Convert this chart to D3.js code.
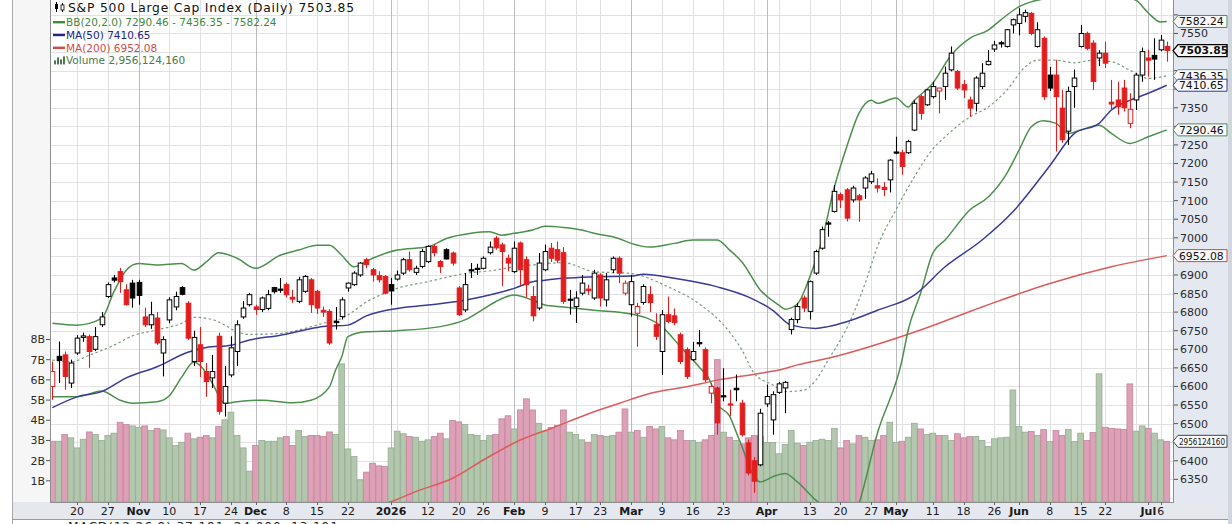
<!DOCTYPE html>
<html><head><meta charset="utf-8">
<script src="https://cdn.jsdelivr.net/npm/d3@7"></script>
<style>body{margin:0;background:#fff;} svg{display:block;font-family:"DejaVu Sans",Verdana,sans-serif;}</style>
</head><body>
<script>
// ---------------- DATA ----------------
const startDate = "2025-10-14";
const endDate = "2026-07-07";
const holidays = ["2025-11-27","2025-12-25","2026-01-01","2026-01-19","2026-02-16","2026-04-03","2026-05-25","2026-06-19","2026-07-03"];
const prevClose = 6660;

const opens = [6600,6681,6685,6609,
6690,6732,6734,6700,6766, 6842,6892,6909,6860,6878, 6880,6787,6766,6784,6690, 6779,6814,6866,6824,6667,
6712,6640,6623,6735,6555, 6631,6694,6787,6820, 6814,6807,6810,6866,6862, 6874,6840,6829,6856,6887,
6856,6805,6802,6775,6788, 6865,6874,6900,6941, 6914,6898,6896,6874, 6889,6905,6941,6907,6923,
6936,6977,6936,6968,6959, 6865,6806,6914,6918, 6918,6960,6999,6981,6945, 6909,6986,6941,6842,6811,
6914,6972,6968,6960,6835, 6815,6851,6862,6838, 6900,6833,6914,6945,6851, 6820,6797,6826,6847,6766,
6694,6793,6790,6739,6699, 6672,6718,6699,6582,6596, 6575,6553,6595,6555,6448, 6400,6389,6553,6510,
6584,6596,6753,6780,6838, 6802,6905,6972,7040,7071, 7116,7129,7102,7113,7134, 7151,7140,7136,7156,7231,
7229,7229,7290,7380,7358, 7380,7395,7407,7452,7448, 7412,7371,7362,7407,7466, 7508,7525,7515,7573,
7577,7596,7604,7515,7537, 7438,7438,7349,7287,7407, 7515,7550,7524,7484, 7497,7365,7371,7403,7308,
7371,7438,7484,7491, 7506,7515];
const highs = [6667,6721,6694,6672,
6738,6745,6740,6760,6800, 6880,6900,6919,6875,6887, 6887,6812,6828,6800,6735, 6840,6855,6870,6830,6750,
6760,6663,6685,6745,6655, 6735,6778,6830,6852, 6820,6842,6860,6868,6892, 6880,6860,6895,6900,6892,
6860,6815,6808,6814,6840, 6880,6910,6935,6946, 6919,6910,6900,6892, 6912,6946,6963,6925,6970,
6980,6982,6940,6972,6963, 6870,6905,6932,6930, 6950,6990,7005,6987,6955, 6990,6990,6950,6870,6959,
6982,6986,6990,6975,6860, 6856,6900,6874,6914, 6905,6905,6950,6950,6885, 6900,6825,6875,6870,6797,
6806,6842,6810,6745,6705, 6720,6752,6705,6609,6600, 6649,6591,6632,6564,6457, 6410,6540,6605,6587,
6612,6615,6785,6825,6845, 6885,6968,7030,7045,7142, 7122,7134,7140,7118,7166, 7180,7160,7150,7212,7272,
7237,7264,7370,7385,7400, 7420,7404,7461,7515,7452, 7425,7380,7435,7470,7505, 7530,7530,7562,7590,
7618,7614,7608,7580,7542, 7460,7479,7398,7407,7453, 7573,7555,7532,7505, 7528,7425,7420,7425,7389,
7444,7512,7506,7537, 7546,7528];
const lows = [6564,6609,6591,6596,
6685,6720,6650,6695,6760, 6838,6880,6852,6818,6812, 6820,6760,6755,6712,6627, 6770,6805,6845,6725,6655,
6625,6572,6596,6524,6519, 6625,6655,6782,6815, 6793,6800,6805,6850,6852, 6840,6825,6824,6852,6798,
6795,6787,6712,6753,6780, 6855,6870,6895,6918, 6882,6880,6848,6820, 6885,6900,6909,6900,6918,
6932,6950,6905,6942,6925, 6790,6800,6892,6900, 6915,6955,6968,6870,6910, 6905,6870,6840,6775,6805,
6910,6935,6932,6822,6793, 6771,6845,6847,6833, 6815,6815,6905,6878,6845, 6788,6707,6820,6800,6725,
6631,6770,6765,6660,6620, 6668,6707,6612,6555,6470, 6560,6520,6560,6465,6360, 6314,6385,6545,6470,
6580,6528,6740,6770,6800, 6780,6900,6968,7003,7068, 7080,7044,7095,7043,7105, 7145,7122,7112,7122,7225,
7170,7226,7287,7318,7355, 7375,7335,7371,7448,7398, 7376,7326,7340,7400,7464, 7500,7512,7512,7550,
7545,7580,7545,7512,7371, 7395,7232,7256,7250,7350, 7512,7505,7398,7462, 7457,7344,7331,7340,7295,
7344,7420,7434,7425, 7502,7474];
const closes = [6640,6670,6627,6663,
6730,6736,6694,6734,6787, 6874,6886,6882,6820,6838, 6845,6766,6793,6717,6726, 6833,6842,6848,6730,6732,
6667,6613,6640,6533,6600, 6704,6766,6811,6847, 6807,6838,6847,6855,6860, 6847,6835,6887,6896,6820,
6811,6800,6717,6772,6833, 6878,6905,6932,6928, 6900,6887,6851,6857, 6900,6941,6914,6918,6963,
6977,6960,6923,6943,6932, 6793,6874,6912,6915, 6945,6975,6973,6963,6932, 6972,6914,6874,6790,6932,
6963,6945,6940,6829,6833, 6838,6878,6858,6905, 6838,6887,6945,6905,6878, 6882,6815,6869,6826,6735,
6793,6775,6772,6667,6627, 6694,6715,6618,6600,6502, 6572,6550,6591,6470,6367, 6345,6528,6573,6578,
6607,6611,6780,6815,6811, 6882,6963,7022,7037,7125, 7102,7053,7134,7102,7161, 7172,7134,7130,7209,7228,
7192,7259,7362,7335,7398, 7407,7403,7443,7497,7403, 7398,7349,7430,7443,7475, 7519,7522,7560,7587,
7600,7606,7550,7560,7380, 7403,7380,7264,7394,7430, 7550,7510,7421,7497, 7470,7360,7353,7350,7346,
7438,7501,7478,7481, 7532,7503.85];
// volume, billions of shares
const volumes = [2.96,2.96,3.29,3.13,
2.63,3.06,3.42,3.29,3.00, 3.24,3.36,3.90,3.79,3.72, 3.65,3.72,3.49,3.60,3.52, 3.13,2.75,2.91,3.36,3.08,
3.16,3.24,3.13,3.69,4.02, 4.40,3.24,2.63,1.48, 2.76,3.00,2.96,2.96,3.13, 3.19,2.75,3.49,3.19,3.24,
3.24,3.19,3.42,3.29,6.79, 2.58,2.20,1.05,1.43, 1.87,1.74,1.72,2.63, 3.46,3.33,3.19,3.16,2.96,
3.03,3.19,3.36,3.08,3.99, 3.92,3.79,3.29,3.24, 3.00,3.24,3.29,4.07,4.22, 3.57,4.51,5.06,4.51,3.85,
3.46,3.65,3.74,4.51,3.41, 3.29,3.03,2.91,3.29, 3.24,3.19,3.24,3.41,4.56, 3.41,3.49,3.16,3.69,3.57,
3.69,3.13,3.03,3.49,3.00, 3.00,2.91,3.03,3.24,7.00, 3.41,3.16,3.00,2.83,3.13, 3.24,3.20,2.90,2.90,
2.34,2.80,3.49,2.86,2.75, 2.91,3.00,3.06,3.00,3.60, 2.63,3.00,2.83,3.24,3.16, 3.00,3.03,3.24,3.90,2.91,
2.96,3.16,3.85,3.57,3.29, 3.36,3.24,3.24,3.00,3.33, 3.13,3.19,3.19,3.00,2.70, 3.08,3.13,3.16,5.50,
3.69,3.41,3.44,3.24,3.54, 2.95,3.49,3.24,3.54,2.95, 3.36,3.00,3.39,6.30, 3.65,3.60,3.57,3.54,5.80,
3.46,3.72,3.60,3.36, 3.03,2.95612416];

// indicator lines: [trading days after lineDay0, value]
const lineDay0 = "2025-10-20";
const bbUpper = [[-4,6770],[0,6765],[4,6783],[6,6855],[8,6913],[10,6931],[13,6927],[17,6931],[19,6913],[21,6935],[23,6960],[26,6945],[29,6918],[33,6953],[36,6967],[39,6980],[41,6980],[43,6953],[45,6922],[48,6945],[52,6967],[57,6976],[60,6998],[64,7012],[67,7016],[69,7007],[71,7012],[74,7021],[76,7031],[79,7028],[82,7021],[84,7012],[88,6998],[90,6985],[93,6975],[97,6985],[100,6994],[104,6994],[106,6967],[108,6935],[111,6859],[114,6819],[115,6808],[117,6822],[119,6894],[121,6994],[123,7136],[125,7244],[127,7335],[129,7370],[130,7362],[133,7376],[135,7352],[136,7370],[139,7416],[142,7492],[145,7537],[148,7559],[150,7586],[153,7622],[155,7635],[159,7648],[163,7655],[168,7655],[172,7639],[174,7605],[176,7581],[177,7582.24]];
const bbMiddle = [[-4,6671],[-1,6666],[2,6684],[6,6711],[9,6736],[13,6752],[17,6770],[19,6786],[22,6780],[24,6765],[26,6747],[28,6740],[33,6743],[36,6752],[40,6770],[43,6783],[47,6827],[52,6864],[57,6882],[63,6904],[68,6913],[71,6922],[74,6927],[79,6933],[84,6909],[90,6904],[96,6868],[101,6823],[106,6746],[108,6698],[110,6635],[113,6604],[115,6586],[118,6590],[120,6617],[122,6671],[125,6756],[128,6877],[130,6976],[133,7075],[136,7164],[139,7239],[141,7272],[145,7325],[148,7352],[151,7397],[154,7460],[156,7478],[159,7478],[162,7471],[165,7478],[168,7474],[171,7451],[174,7429],[177,7436.35]];
const bbLower = [[-4,6572],[0,6572],[4,6588],[7,6563],[9,6555],[13,6559],[15,6575],[17,6625],[19,6666],[21,6636],[22,6608],[24,6554],[26,6559],[30,6563],[35,6556],[38,6563],[41,6599],[42,6644],[43,6680],[44,6734],[47,6747],[52,6750],[59,6761],[63,6779],[66,6808],[68,6828],[71,6846],[74,6832],[76,6819],[79,6814],[84,6805],[90,6795],[95,6761],[98,6707],[101,6653],[103,6608],[104,6554],[106,6520],[107,6480],[108,6438],[110,6357],[111,6343],[113,6357],[115,6366],[117,6343],[120,6294],[121,6280],[123,6235],[125,6215],[126,6240],[127,6285],[130,6474],[134,6671],[135,6752],[137,6850],[139,6959],[141,6994],[145,7075],[148,7110],[151,7173],[153,7236],[155,7299],[157,7315],[159,7308],[161,7281],[163,7290],[166,7303],[168,7281],[171,7254],[174,7272],[177,7290.46]];
const ma50 = [[-4,6543],[0,6572],[4,6586],[8,6623],[13,6653],[18,6692],[21,6705],[25,6711],[28,6725],[33,6738],[37,6752],[40,6761],[44,6765],[47,6790],[52,6810],[57,6819],[63,6832],[68,6850],[71,6864],[74,6882],[76,6886],[79,6891],[84,6895],[90,6897],[92,6902],[97,6891],[104,6868],[109,6841],[113,6805],[116,6765],[120,6756],[122,6761],[125,6774],[130,6805],[136,6846],[141,6922],[147,6994],[152,7070],[158,7194],[162,7281],[166,7308],[168,7344],[171,7370],[174,7389],[177,7410.65]];
const ma200 = [[44,6270],[51,6290],[55,6317],[61,6353],[66,6402],[72,6456],[77,6487],[83,6526],[88,6554],[93,6581],[99,6599],[104,6617],[110,6633],[114,6644],[117,6658],[122,6676],[137,6752],[147,6814],[158,6877],[168,6922],[177,6952.08]];

const xLabels = [["2025-10-20","20"],["2025-10-27","27"],["2025-11-03","Nov"],["2025-11-10","10"],["2025-11-17","17"],["2025-11-24","24"],["2025-12-01","Dec"],["2025-12-08","8"],["2025-12-15","15"],["2025-12-22","22"],["2026-01-02","2026"],["2026-01-12","12"],["2026-01-20","20"],["2026-01-26","26"],["2026-02-02","Feb"],["2026-02-09","9"],["2026-02-17","17"],["2026-02-23","23"],["2026-03-02","Mar"],["2026-03-09","9"],["2026-03-16","16"],["2026-03-23","23"],["2026-04-01","Apr"],["2026-04-13","13"],["2026-04-20","20"],["2026-04-27","27"],["2026-05-01","May"],["2026-05-11","11"],["2026-05-18","18"],["2026-05-26","26"],["2026-06-01","Jun"],["2026-06-08","8"],["2026-06-15","15"],["2026-06-22","22"],["2026-07-01","Jul"],["2026-07-06","6"]];
const monthLabels = ["Nov","Dec","2026","Feb","Mar","Apr","May","Jun","Jul"];
const priceTicks = d3.range(6350, 7601, 50);
const volTicks = [1,2,3,4,5,6,7,8];
const macdText = "MACD(12,26,9) 37.191, 24.000, 13.191";

// ---------------- SETUP ----------------
const fmt = d3.utcFormat("%Y-%m-%d");
const hol = new Set(holidays);
const dates = d3.utcDay.range(new Date(startDate+"T00:00:00Z"), d3.utcDay.offset(new Date(endDate+"T00:00:00Z"),1))
  .filter(d => d.getUTCDay()!==0 && d.getUTCDay()!==6 && !hol.has(fmt(d))).map(fmt);

const PL=50, PR=1174, PT=0, PB=502;
const step = 6.157;
const x = d3.scaleBand().domain(dates).range([49.29, 49.29 + dates.length*step]).paddingInner(0).paddingOuter(0);
const cx = d => x(d) + x.bandwidth()/2;
const y = d3.scaleLinear().domain([6289, 7640]).range([PB, PT]);
const yv = d3.scaleLinear().domain([0, 8]).range([501, 339.5]);
const day0 = dates.indexOf(lineDay0);

const candles = dates.map((d,i)=>({d, o:opens[i], h:highs[i], l:lows[i], c:closes[i], v:volumes[i],
  pc: i===0 ? prevClose : closes[i-1]}));

const svg = d3.select("body").append("svg").attr("width",1232).attr("height",524);
svg.append("rect").attr("width",1232).attr("height",524).attr("fill","#fff");
svg.append("rect").attr("x",12).attr("y",0).attr("width",PL-12).attr("height",PB).attr("fill","#f6f6f7");
svg.append("rect").attr("x",PL).attr("y",PT).attr("width",PR-PL).attr("height",PB-PT).attr("fill","#fff");
svg.append("rect").attr("x",PR).attr("y",0).attr("width",54).attr("height",519).attr("fill","#e3e8f1");
svg.append("rect").attr("x",1228).attr("y",0).attr("width",4).attr("height",524).attr("fill","#d0d5de");
svg.append("rect").attr("x",12).attr("y",PB).attr("width",1216).attr("height",17).attr("fill","#e5e8ef");
svg.append("line").attr("x1",12.5).attr("x2",12.5).attr("y1",0).attr("y2",524).attr("stroke","#a9a9a9");

svg.append("clipPath").attr("id","plotclip").append("rect").attr("x",PL).attr("y",PT).attr("width",PR-PL).attr("height",PB-PT);

// grid
const grid = svg.append("g");
grid.selectAll("line.h").data(d3.range(6300,7601,50)).join("line")
  .attr("x1",PL).attr("x2",PR).attr("y1",p=>Math.round(y(p))+0.5).attr("y2",p=>Math.round(y(p))+0.5)
  .attr("stroke","#e2e2e4").attr("stroke-width",1);
const weekStarts = dates.filter((d,i)=> i>0 && (new Date(d).getUTCDay() < new Date(dates[i-1]).getUTCDay() || (new Date(d)-new Date(dates[i-1]))>3*864e5));
const monthStarts = dates.filter((d,i)=> i>0 && d.slice(5,7)!==dates[i-1].slice(5,7));
grid.selectAll("line.w").data(weekStarts).join("line")
  .attr("x1",d=>Math.round(cx(d))+0.5).attr("x2",d=>Math.round(cx(d))+0.5).attr("y1",PT).attr("y2",PB)
  .attr("stroke","#e0e0e3");
grid.selectAll("line.m").data(monthStarts).join("line")
  .attr("x1",d=>Math.round(cx(d))+0.5).attr("x2",d=>Math.round(cx(d))+0.5).attr("y1",PT).attr("y2",PB)
  .attr("stroke","#b9bcc2");

const plot = svg.append("g").attr("clip-path","url(#plotclip)");

// volume
plot.selectAll("rect.vol").data(candles).join("rect")
  .attr("x",d=>cx(d.d)-2.9).attr("width",5.8)
  .attr("y",d=>yv(d.v)).attr("height",d=>PB-yv(d.v))
  .attr("fill",d=>d.c>=d.pc?"#b2c7ad":"#dca1b6")
  .attr("stroke",d=>d.c>=d.pc?"#95ad90":"#c6849c").attr("stroke-width",0.8);

// lines
const mk = pts => d3.line().x(p=>cx(dates[day0+p[0]])).y(p=>y(p[1])).curve(d3.curveMonotoneX)(pts);
plot.append("path").attr("d",mk(ma200)).attr("fill","none").attr("stroke","#dc5b5b").attr("stroke-width",1.5);
plot.append("path").attr("d",mk(bbMiddle)).attr("fill","none").attr("stroke","#7d9a7d").attr("stroke-width",1.2).attr("stroke-dasharray","2.5,2.5");
plot.append("path").attr("d",mk(bbUpper)).attr("fill","none").attr("stroke","#4d8f4d").attr("stroke-width",1.5);
plot.append("path").attr("d",mk(bbLower)).attr("fill","none").attr("stroke","#4d8f4d").attr("stroke-width",1.5);
plot.append("path").attr("d",mk(ma50)).attr("fill","none").attr("stroke","#3a3a98").attr("stroke-width",1.5);

// candles
const RED="#e11d1d", BLK="#000";
const cg = plot.selectAll("g.c").data(candles).join("g");
cg.append("line").attr("x1",d=>Math.round(cx(d.d))+0.5).attr("x2",d=>Math.round(cx(d.d))+0.5)
  .attr("y1",d=>y(d.h)).attr("y2",d=>y(d.l))
  .attr("stroke",d=>d.c<d.pc?RED:BLK).attr("stroke-width",1.1);
cg.append("rect").attr("x",d=>Math.round(cx(d.d))-1.8).attr("width",4.6)
  .attr("y",d=>y(Math.max(d.o,d.c))).attr("height",d=>Math.max(1.2,Math.abs(y(d.o)-y(d.c))))
  .attr("fill",d=>d.c>=d.o?"#fff":(d.c<d.pc?RED:BLK))
  .attr("stroke",d=>d.c<d.pc?RED:BLK).attr("stroke-width",1);

// plot border
svg.append("rect").attr("x",PL+0.5).attr("y",-1).attr("width",PR-PL-1).attr("height",PB+1.5)
  .attr("fill","none").attr("stroke","#8e8e8e");

// right axis tags (computed first so fully covered tick labels are skipped)
const last = a => a[a.length-1][1];
const f2 = d3.format(".2f");
const lastVol = Math.round(volumes[volumes.length-1]*1e9);
const tags = [
  {yy:y(last(bbUpper)), t:f2(last(bbUpper)), s:"#4d8f4d"},
  {yy:y(closes[closes.length-1]), t:f2(closes[closes.length-1]), s:"#000", b:true},
  {yy:y(last(bbMiddle)), t:f2(last(bbMiddle)), s:"#6f9a6f"},
  {yy:y(last(ma50)), t:f2(last(ma50)), s:"#3a3a98"},
  {yy:y(last(bbLower)), t:f2(last(bbLower)), s:"#4d8f4d"},
  {yy:y(last(ma200)), t:f2(last(ma200)), s:"#d44"},
  {yy:yv(volumes[volumes.length-1]), t:String(lastVol), s:"#444", small:true}
];
const shown = priceTicks.filter(p => tags.every(t => Math.abs(y(p)-t.yy) > 8));

const ra = svg.append("g");
ra.selectAll("line").data(priceTicks).join("line").attr("x1",PR).attr("x2",PR+4)
  .attr("y1",p=>y(p)).attr("y2",p=>y(p)).attr("stroke","#555");
ra.selectAll("text").data(shown).join("text").attr("x",PR+6).attr("y",p=>y(p)).attr("dy","0.36em")
  .attr("font-size",11).attr("fill","#2a2a2a").text(p=>p);

const tg = svg.append("g");
tags.forEach(tag=>{
  const t=tag.yy;
  tg.append("path").attr("d",`M${PR-1},${t} L${PR+4},${t-6} L1227,${t-6} L1227,${t+6} L${PR+4},${t+6} Z`)
    .attr("fill","#f9f9fb").attr("stroke",tag.s).attr("stroke-width",tag.b?1.4:1);
  const tx = tg.append("text").attr("x",PR+5).attr("y",t).attr("dy","0.36em").attr("font-size",tag.small?9.4:10.8)
    .attr("font-weight",tag.b?"bold":"normal").attr("fill","#111").text(tag.t);
  if(tag.small) tx.attr("textLength",46).attr("lengthAdjust","spacingAndGlyphs");
});

// left volume axis
const la = svg.append("g");
la.selectAll("line").data(volTicks).join("line").attr("x1",PL-4).attr("x2",PL).attr("y1",v=>yv(v)).attr("y2",v=>yv(v)).attr("stroke","#555");
la.selectAll("text").data(volTicks).join("text").attr("x",PL-5).attr("y",v=>yv(v)).attr("dy","0.36em")
  .attr("text-anchor","end").attr("font-size",11).attr("fill","#2a2a2a").text(v=>v+"B");

// bottom axis
const ba = svg.append("g");
ba.selectAll("line").data(xLabels).join("line").attr("x1",d=>Math.round(cx(d[0]))+0.5).attr("x2",d=>Math.round(cx(d[0]))+0.5)
  .attr("y1",PB).attr("y2",PB+3).attr("stroke","#666");
ba.selectAll("text").data(xLabels).join("text").attr("x",d=>cx(d[0])).attr("y",514.5).attr("text-anchor","middle")
  .attr("font-size",11).attr("font-weight",d=>monthLabels.includes(d[1])?"bold":"normal").attr("fill","#1a1a1a").text(d=>d[1]);
svg.append("line").attr("x1",12).attr("x2",1228).attr("y1",519.5).attr("y2",519.5).attr("stroke","#9a9a9a");
svg.append("text").attr("x",68).attr("y",531).attr("font-size",12.3).attr("letter-spacing",0.8).attr("fill","#222").text(macdText);

// legend
const lg = svg.append("g");
lg.append("line").attr("x1",56.5).attr("x2",56.5).attr("y1",2).attr("y2",12).attr("stroke","#000");
lg.append("rect").attr("x",55).attr("y",4).attr("width",3).attr("height",5).attr("fill","#000");
lg.append("line").attr("x1",62.5).attr("x2",62.5).attr("y1",3).attr("y2",12).attr("stroke","#000");
lg.append("rect").attr("x",61).attr("y",5).attr("width",3).attr("height",5).attr("fill","#fff").attr("stroke","#000").attr("stroke-width",0.8);
lg.append("text").attr("x",68).attr("y",12).attr("font-size",12.3).attr("letter-spacing",0.8).attr("fill","#111")
  .text(`S&P 500 Large Cap Index (Daily) ${f2(closes[closes.length-1])}`);
const items = [
  {c:"#3f8a3f", t:`BB(20,2.0) ${f2(last(bbLower))} - ${f2(last(bbMiddle))} - ${f2(last(bbUpper))}`, yb:26},
  {c:"#24248a", t:`MA(50) ${f2(last(ma50))}`, yb:38.8},
  {c:"#d44a4a", t:`MA(200) ${f2(last(ma200))}`, yb:51.6},
  {c:"#4b7b4b", t:`Volume ${d3.format(",")(lastVol)}`, yb:64.4, vol:true}
];
items.forEach(it=>{
  if(it.vol){
    [[54,4],[57,7],[60,5],[63,8]].forEach(b=>lg.append("rect").attr("x",b[0]).attr("y",it.yb-b[1]).attr("width",2).attr("height",b[1]).attr("fill",it.c));
  } else {
    lg.append("line").attr("x1",53).attr("x2",65).attr("y1",it.yb-3.8).attr("y2",it.yb-3.8).attr("stroke",it.c).attr("stroke-width",2.4);
  }
  lg.append("text").attr("x",66).attr("y",it.yb).attr("font-size",10.5).attr("fill",it.c).text(it.t);
});
</script>
</body></html>
